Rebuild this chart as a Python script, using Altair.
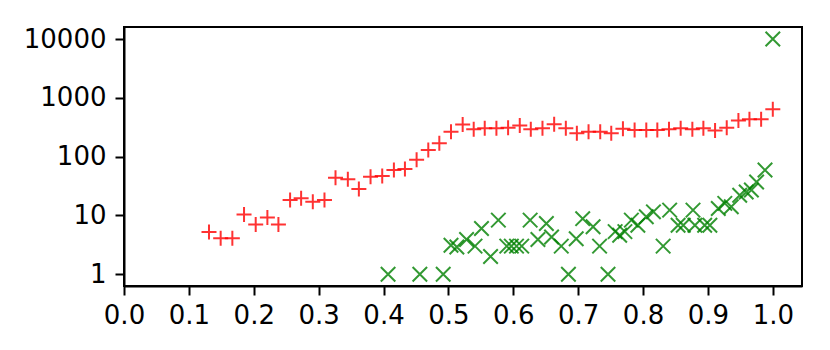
import altair as alt
import pandas as pd

red_x = [0.131, 0.149, 0.167, 0.185, 0.203, 0.221, 0.238, 0.256, 0.273, 0.291, 0.309, 0.326, 0.345, 0.362, 0.380, 0.398, 0.416, 0.433, 0.451, 0.469, 0.486, 0.504, 0.522, 0.539, 0.556, 0.574, 0.592, 0.610, 0.627, 0.645, 0.663, 0.681, 0.698, 0.716, 0.734, 0.751, 0.769, 0.787, 0.805, 0.822, 0.840, 0.858, 0.876, 0.893, 0.911, 0.929, 0.947, 0.964, 0.982, 1.000]
red_y = [5.2, 4.1, 4.1, 10.4, 7.0, 9.2, 7.0, 18.2, 19.5, 17, 18.2, 43.7, 41, 28, 45.5, 47, 59, 61.5, 88, 130, 168, 265, 350, 292, 303, 303, 311, 337, 292, 303, 355, 303, 250, 265, 265, 250, 299, 283, 283, 283, 292, 303, 292, 303, 277, 311, 410, 432, 432, 640]

green_x = [0.407, 0.456, 0.492, 0.504, 0.513, 0.528, 0.541, 0.551, 0.565, 0.577, 0.590, 0.597, 0.605, 0.613, 0.626, 0.638, 0.651, 0.659, 0.674, 0.685, 0.697, 0.707, 0.723, 0.733, 0.746, 0.757, 0.764, 0.772, 0.782, 0.792, 0.805, 0.816, 0.831, 0.841, 0.854, 0.862, 0.877, 0.880, 0.895, 0.903, 0.916, 0.926, 0.936, 0.949, 0.959, 0.967, 0.975, 0.988, 1.000]
green_y = [1, 1, 1, 3.1, 2.9, 3.9, 3.0, 6, 2, 8.3, 3, 3, 3, 3, 8.3, 3.9, 7.3, 4.3, 3, 1, 4, 8.8, 6.4, 3, 1, 5.3, 4.6, 5.3, 8.3, 6.8, 9.5, 11.5, 3, 12.3, 6.8, 6.8, 12.3, 6.8, 6.8, 6.8, 13.1, 16, 14, 22, 25, 27, 37, 59, 10000]

x_ticks = [0.0, 0.1, 0.2, 0.3, 0.4, 0.5, 0.6, 0.7, 0.8, 0.9, 1.0]
y_ticks = [1, 10, 100, 1000, 10000]

red_df = pd.DataFrame({"x": red_x, "y": red_y})
green_df = pd.DataFrame({"x": green_x, "y": green_y})

x_enc = alt.X("x:Q", scale=alt.Scale(domain=[0, 1.045], nice=False, zero=False),
              axis=alt.Axis(values=x_ticks, format=".1f", title=None, grid=False,
                            labelFlush=False, labelPadding=7))
y_enc = alt.Y("y:Q", scale=alt.Scale(type="log", domain=[0.63, 16000], nice=False),
              axis=alt.Axis(values=y_ticks, format="d", title=None, grid=False,
                            labelPadding=9))

plus_path = "M-1,0L1,0M0,-1L0,1"
x_path = "M-1,-1L1,1M-1,1L1,-1"

red = alt.Chart(red_df).mark_point(shape=plus_path, filled=False, size=225,
                                   strokeWidth=2, color="#ff0000", opacity=0.8).encode(x=x_enc, y=y_enc)
green = alt.Chart(green_df).mark_point(shape=x_path, filled=False, size=210,
                                       strokeWidth=2, color="#008000", opacity=0.8).encode(x=x_enc, y=y_enc)

chart = (red + green).properties(
    width=678, height=259,
    autosize=alt.AutoSizeParams(type="none"),
    padding={"left": 116, "top": 19, "right": 20, "bottom": 50},
).configure_view(
    stroke="black", strokeWidth=2
).configure_axis(
    labelFont="DejaVu Sans", labelFontSize=26, labelColor="black",
    domainColor="black", domainWidth=2, tickColor="black", tickWidth=2,
    tickSize=9
)

chart.save("out.html", embed_options={"renderer": "svg", "actions": False})
